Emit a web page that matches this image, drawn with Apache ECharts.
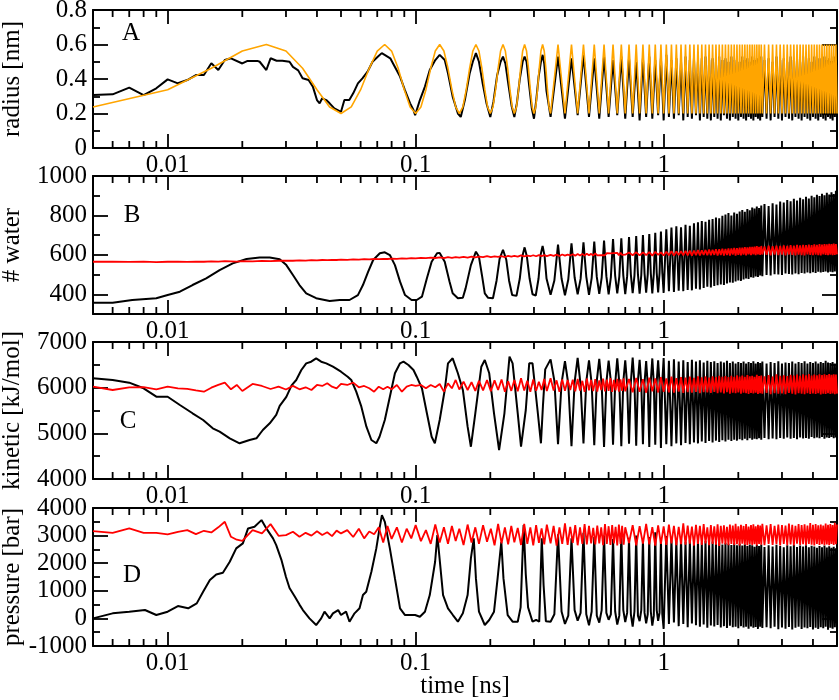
<!DOCTYPE html>
<html><head><meta charset="utf-8">
<script src="https://cdn.jsdelivr.net/npm/echarts@6/dist/echarts.min.js"></script>
<style>html,body{margin:0;padding:0;background:#fff}#c{width:839px;height:700px}</style>
</head><body><div id="c"></div>
<script>
// ---------- tick labels / texts ----------
const xTickValues = [0.01, 0.1, 1];
const xTickLabels = ['0.01', '0.1', '1'];
const xMinorTicks = [0.006,0.007,0.008,0.009,0.02,0.03,0.04,0.05,0.06,0.07,0.08,0.09,0.2,0.3,0.4,0.5,0.6,0.7,0.8,0.9,2,3,4];
const timeAxisName = 'time [ns]';
const panelLetters = ['A','B','C','D'];
const yNames = ['radius [nm]', '# water', 'kinetic [kJ/mol]', 'pressure [bar]'];
const radiusTicks = [0,0.2,0.4,0.6,0.8];      const radiusMinor = [0.1,0.3,0.5,0.7];
const waterTicks = [400,600,800,1000];        const waterMinor = [500,700,900];
const kineticTicks = [4000,5000,6000,7000];   const kineticMinor = [4500,5500,6500];
const pressureTicks = [-1000,0,1000,2000,3000,4000]; const pressureMinor = [-500,500,1500,2500,3500];

// ---------- shared late-time grid (extrema of the oscillation) ----------
const timeLate = [0.35,0.375,0.4,0.425,0.45,0.475,0.5,0.525,0.55,0.575,
0.6,0.625,0.65,0.675,0.7,0.725,0.75,0.775,0.8,0.825,
0.85,0.875,0.9,0.925,0.95,0.975,1,1.025,1.05,1.075,
1.1,1.125,1.15,1.175,1.2,1.225,1.25,1.275,1.3,1.325,
1.35,1.375,1.4,1.425,1.45,1.475,1.5,1.525,1.55,1.575,
1.6,1.625,1.65,1.675,1.7,1.725,1.75,1.775,1.8,1.825,
1.85,1.875,1.9,1.925,1.95,1.975,2,2.025,2.05,2.075,
2.1,2.125,2.15,2.175,2.2,2.225,2.25,2.275,2.3,2.325,
2.35,2.375,2.4,2.425,2.45,2.475,2.5,2.55,2.6,2.65,
2.7,2.75,2.8,2.85,2.9,2.95,3,3.05,3.1,3.15,
3.2,3.25,3.3,3.35,3.4,3.45,3.5,3.55,3.6,3.65,
3.7,3.75,3.8,3.85,3.9,3.95,4,4.05,4.1,4.15,
4.2,4.25,4.3,4.35,4.4,4.45,4.5,4.55,4.6,4.65,
4.7,4.75,4.8,4.85,4.9,4.95,5];
// quarter-period grid between 0.35 and 1 ns (B, C, D shapes)
const timeMid = [0.35,0.3625,0.375,0.3875,0.4,0.4125,0.425,0.4375,0.45,0.4625,
0.475,0.4875,0.5,0.5125,0.525,0.5375,0.55,0.5625,0.575,0.5875,
0.6,0.6125,0.625,0.6375,0.65,0.6625,0.675,0.6875,0.7,0.7125,
0.725,0.7375,0.75,0.7625,0.775,0.7875,0.8,0.8125,0.825,0.8375,
0.85,0.8625,0.875,0.8875,0.9,0.9125,0.925,0.9375,0.95,0.9625,
0.975,0.9875,1];
const timeAfter1 = timeLate.filter(t => t > 1);

// ---------- time grid of the reference (red) curves ----------
const timeRef = [0.005,0.006,0.007,0.008,0.009,0.010,0.011,0.012,0.013,0.014,
0.015,0.016,0.017,0.018,0.019,0.020,0.022,0.024,0.026,0.028,
0.030,0.032,0.034,0.036,0.038,0.040,0.042,0.044,0.046,0.048,
0.050,0.053,0.056,0.059,0.062,0.065,0.068,0.071,0.074,0.077,
0.080,0.084,0.088,0.092,0.096,0.100,0.105,0.110,0.115,0.120,
0.125,0.130,0.135,0.140,0.145,0.150,0.156,0.162,0.168,0.174,
0.180,0.187,0.194,0.201,0.208,0.215,0.222,0.229,0.236,0.243,
0.250,0.258,0.266,0.274,0.282,0.290,0.298,0.306,0.314,0.322,
0.330,0.338,0.35,0.36,0.37,0.38,0.39,0.40,0.41,0.42,
0.43,0.44,0.45,0.46,0.47,0.48,0.49,0.50,0.51,0.52,
0.53,0.54,0.55,0.56,0.57,0.58,0.59,0.60,0.61,0.62,
0.63,0.64,0.65,0.66,0.67,0.68,0.69,0.70,0.725,0.75,
0.775,0.8,0.825,0.85,0.875,0.9,0.925,0.95,0.975,1,
1.025,1.05,1.075,1.1,1.125,1.15,1.175,1.2,1.225,1.25,
1.275,1.3,1.325,1.35,1.375,1.4,1.425,1.45,1.475,1.5,
1.525,1.55,1.575,1.6,1.625,1.65,1.675,1.7,1.725,1.75,
1.775,1.8,1.825,1.85,1.875,1.9,1.925,1.95,1.975,2,
2.025,2.05,2.075,2.1,2.125,2.15,2.175,2.2,2.225,2.25,
2.275,2.3,2.325,2.35,2.375,2.4,2.425,2.45,2.475,2.5,
2.55,2.6,2.65,2.7,2.75,2.8,2.85,2.9,2.95,3,
3.05,3.1,3.15,3.2,3.25,3.3,3.35,3.4,3.45,3.5,
3.55,3.6,3.65,3.7,3.75,3.8,3.85,3.9,3.95,4,
4.05,4.1,4.15,4.2,4.25,4.3,4.35,4.4,4.45,4.5,
4.55,4.6,4.65,4.7,4.75,4.8,4.85,4.9,4.95,5];

// ---------- A: radius (black simulation, orange model) ----------
const timeRadiusEarly = [0.005,0.006,0.007,0.008,0.009,0.010,0.011,0.012,0.013,0.014,
0.015,0.016,0.017,0.018,0.020,0.021,0.023,0.0235,0.025,0.026,
0.0275,0.029,0.031,0.032,0.0336,0.035,0.037,0.0385,0.040,0.041,
0.042,0.0436,0.045,0.047,0.050,0.0516,0.054,0.056,0.0585,0.061,
0.064,0.067,0.0705,0.073,0.075,0.079,0.0825,0.0865,0.0905,0.095,
0.098,0.0995,0.104,0.109,0.114,0.12,0.125,0.131,0.135,0.141,
0.148,0.152,0.158,0.165,0.17,0.175,0.18,0.186,0.193,0.2,
0.206,0.213,0.22,0.225,0.23,0.237,0.244,0.25,0.256,0.263,
0.27,0.275,0.28,0.287,0.294,0.3,0.306,0.313,0.32,0.325,
0.33,0.337];
const radiusEarly = [.307,.311,.35,.307,.346,.398,.375,.394,.423,.423,
.491,.452,.51,.52,.49,.505,.505,.5,.452,.52,
.506,.506,.5,.47,.45,.404,.394,.356,.278,.259,
.288,.278,.259,.23,.21,.278,.278,.317,.375,.404,
.443,.5,.53,.55,.54,.52,.47,.414,.336,.259,
.22,.19,.278,.356,.452,.51,.54,.51,.433,.298,
.2,.18,.28,.43,.5,.55,.5,.38,.26,.18,
.27,.42,.5,.53,.49,.36,.24,.18,.26,.4,
.5,.53,.5,.36,.23,.17,.27,.41,.5,.54,
.49,.33];
const radiusLate = [.18,.53,.17,.52,.19,.54,.18,.52,.17,.53,
.18,.51,.19,.53,.17,.52,.18,.50,.16,.52,
.18,.53,.17,.51,.19,.52,.16,.54,.18,.51,
.17,.52,.19,.50,.16,.53,.18,.51,.17,.52,
.19,.50,.16,.52,.18,.53,.17,.51,.16,.52,
.18,.50,.17,.53,.16,.51,.19,.52,.17,.50,
.16,.53,.18,.51,.17,.52,.16,.50,.18,.53,
.17,.51,.16,.52,.18,.50,.17,.53,.16,.51,
.18,.52,.17,.50,.16,.53,.18,.51,.17,.52,
.16,.50,.18,.53,.17,.51,.16,.52,.18,.50,
.17,.53,.16,.51,.18,.52,.17,.50,.16,.53,
.18,.51,.17,.52,.16,.50,.18,.53,.17,.51,
.16,.52,.18,.50,.17,.53,.16,.51,.18,.52,
.17,.50,.16,.53,.18,.51,.17];
const timeModelEarly = [0.005,0.01,0.015,0.02,0.025,0.03,0.035,0.04,0.045,0.05,
0.055,0.06,0.065,0.07,0.075,0.08,0.085,0.09,0.095,0.1,
0.105,0.11,0.115,0.12,0.125,0.13,0.135,0.14,0.145,0.15,
0.155,0.16,0.165,0.17,0.175,0.18,0.185,0.19,0.195,0.2,
0.205,0.21,0.215,0.22,0.225,0.23,0.235,0.24,0.245,0.25,
0.255,0.26,0.265,0.27,0.275,0.28,0.285,0.29,0.295,0.3,
0.305,0.31,0.315,0.32,0.325,0.33,0.335,0.34,0.345];
const radiusModelEarly = [.238,.338,.462,.562,.6,.562,.462,.338,.238,.2,
.238,.338,.462,.562,.6,.562,.462,.338,.238,.2,
.238,.338,.462,.562,.6,.562,.462,.338,.238,.2,
.238,.338,.462,.562,.6,.562,.462,.338,.238,.2,
.238,.338,.462,.562,.6,.562,.462,.338,.238,.2,
.238,.338,.462,.562,.6,.562,.462,.338,.238,.2,
.238,.338,.462,.562,.6,.562,.462,.338,.238];
const radiusModelLate = [.2,.6,.2,.6,.2,.6,.2,.6,.2,.6,
.2,.6,.2,.6,.2,.6,.2,.6,.2,.6,
.2,.6,.2,.6,.2,.6,.2,.6,.2,.6,
.2,.6,.2,.6,.2,.6,.2,.6,.2,.6,
.2,.6,.2,.6,.2,.6,.2,.6,.2,.6,
.2,.6,.2,.6,.2,.6,.2,.6,.2,.6,
.2,.6,.2,.6,.2,.6,.2,.6,.2,.6,
.2,.6,.2,.6,.2,.6,.2,.6,.2,.6,
.2,.6,.2,.6,.2,.6,.2,.6,.2,.6,
.2,.6,.2,.6,.2,.6,.2,.6,.2,.6,
.2,.6,.2,.6,.2,.6,.2,.6,.2,.6,
.2,.6,.2,.6,.2,.6,.2,.6,.2,.6,
.2,.6,.2,.6,.2,.6,.2,.6,.2,.6,
.2,.6,.2,.6,.2,.6,.2];

// ---------- B: # water ----------
const timeWaterEarly = [0.005,0.006,0.0072,0.009,0.01,0.0112,0.0126,0.0143,0.0162,0.0183,
0.0208,0.0235,0.0258,0.0283,0.0301,0.032,0.034,0.0362,0.0397,0.045,
0.0494,0.0541,0.0585,0.0613,0.0643,0.0674,0.0717,0.0751,0.0787,0.0825,
0.0865,0.0906,0.0963,0.101,0.106,0.111,0.116,0.122,0.125,0.131,
0.137,0.141,0.148,0.155,0.159,0.167,0.175,0.18,0.185,0.19,
0.196,0.205,0.212,0.218,0.225,0.232,0.238,0.245,0.255,0.263,
0.269,0.275,0.281,0.288,0.296,0.305,0.313,0.319,0.325,0.331,
0.337];
const waterEarly = [357,357,371,380,396,413,447,481,523,557,
579,587,587,578,548,498,447,405,380,366,
371,371,396,447,514,574,608,613,599,548,
464,396,371,371,388,481,565,608,610,565,
464,405,380,382,430,548,616,590,498,405,
382,380,470,580,626,575,470,396,392,480,
590,638,590,480,400,394,480,600,645,595,
480];
const waterMid = [398,470,652,480,395,475,658,485,400,478,
663,490,397,482,668,488,402,485,672,492,
400,486,680,494,404,490,684,496,401,492,
690,500,406,495,695,502,403,498,700,505,
408,500,705,506,405,503,712,510,410,506,
718,512,407];
const waterLate = [730,415,738,
412,745,418,740,416,752,422,748,420,760,
428,765,424,772,432,768,438,778,434,782,
442,790,446,786,450,798,447,805,455,812,
460,800,458,815,465,808,470,820,468,828,
475,818,480,832,478,826,486,840,484,835,
490,845,488,838,495,850,492,858,498,848,
496,862,502,855,500,870,498,866,505,878,
503,872,500,885,506,876,502,890,508,882,
505,895,510,886,507,900,512,892,508,905,
514,898,510,910,513,902,516,915,511,906,
515,918,512,908,516,925,514];
const waterRef = [565,566,564,566,563,565,566,564,566,565,
567,566,568,567,566,568,567,569,568,570,
571,570,572,571,573,572,574,573,575,574,
576,575,577,576,578,577,579,578,580,579,
581,580,582,581,583,582,585,583,586,584,
587,584,588,585,589,586,590,586,591,587,
591,588,593,589,592,590,594,589,595,591,
595,591,597,592,596,593,598,593,599,594,
599,594,600,595,601,594,602,596,601,597,
603,596,604,597,605,596,606,598,605,597,
607,597,606,599,608,598,609,599,607,600,
609,599,610,598,611,600,609,601,612,598,
613,597,612,599,614,596,615,600,613,597,
616,598,618,596,617,599,619,597,620,598,
621,596,622,599,624,597,623,600,625,598,
627,598,626,600,629,596,628,599,631,597,
630,599,633,597,632,601,635,596,634,600,
637,598,636,601,639,597,638,602,641,599,
640,602,642,599,644,603,641,600,645,602,
643,600,646,598,644,602,647,599,645,601,
648,597,646,602,649,600,647,598,650,601,
648,599,651,597,649,602,652,600,650,598,
653,601,651,599,654,597,652,602,655,600,
653,598,656,601,654,599,657,600,655,602];

// ---------- C: kinetic energy ----------
const timeKineticEarly = [0.005,0.006,0.007,0.008,0.009,0.01,0.0112,0.0126,0.0139,0.0152,
0.0162,0.0178,0.0195,0.0214,0.0228,0.0242,0.0258,0.0274,0.0283,0.0301,
0.0316,0.033,0.0346,0.0362,0.0379,0.0397,0.0416,0.0436,0.0464,0.05,
0.0532,0.055,0.0576,0.0604,0.0633,0.0663,0.0694,0.0715,0.0751,0.0787,
0.0825,0.0865,0.0893,0.0935,0.098,0.101,0.106,0.111,0.116,0.1195,
0.125,0.131,0.135,0.141,0.148,0.155,0.162,0.167,0.174,0.184,
0.19,0.198,0.207,0.217,0.228,0.239,0.246,0.258,0.266,0.278,
0.287,0.296,0.31,0.32,0.326,0.333];
const kineticEarly = [6205,6168,6109,5986,5802,5802,5621,5439,5292,5110,
5036,4891,4782,4854,4891,5073,5220,5402,5600,5800,
6050,6168,6387,6533,6569,6643,6569,6533,6459,6350,
6240,6168,5912,5584,5145,4854,4782,4926,5292,5802,
6315,6533,6569,6497,6387,6240,5986,5439,4926,4782,
5292,5949,6533,6643,6315,5949,5145,4707,5439,6459,
6606,6315,5439,4635,5439,6680,6533,5439,4707,5511,
6533,6533,5511,4782,5600,6400];
const kineticMid = [6620,6150,4760,6100,6580,6080,4720,6120,6650,6060,
4780,6130,6600,6090,4740,6150,6630,6070,4700,6110,
6590,6140,4750,6080,6640,6100,4720,6130,6600,6060,
4770,6120,6660,6090,4730,6150,6610,6080,4760,6110,
6580,6070,4700,6140,6640,6100,4750,6120,6600,6090,
4680,6130,6650];
const kineticLate = [4760,6590,4720,
6620,4780,6570,4740,6600,4790,6560,4760,6610,4800,
6570,4780,6600,4820,6550,4790,6590,4830,6560,4800,
6580,4840,6540,4810,6570,4850,6550,4820,6590,4860,
6540,4830,6570,4860,6530,4840,6560,4870,6540,4850,
6570,4880,6530,4850,6560,4890,6540,4860,6580,4880,
6530,4870,6560,4890,6540,4860,6570,4900,6530,4870,
6560,4890,6540,4870,6580,4900,6530,4880,6550,4910,
6540,4880,6570,4900,6530,4870,6560,4910,6540,4890,
6580,4900,6530,4880,6560,4920,6540,4890,6570,4910,
6530,4890,6560,4920,6540,4880,6590,4910,6550,4900,
6540,4920,6560,4890,6530,4910,6550];
const kineticRef = [6022,5949,6008,6010,5964,6022,5986,5975,5940,5912,
6000,6060,6109,5964,6059,5927,6081,6037,5971,6022,
5960,6040,5964,6008,5949,6059,6037,6095,6022,5986,
6081,6059,6110,6008,6037,5986,5912,6022,5964,6022,
5964,6059,5912,6022,6059,6037,6059,5986,6059,6008,
6080,5912,6095,5986,6168,5960,6131,5949,6120,5930,
6150,5940,6168,5920,6160,5950,6180,5912,6140,5930,
6170,5920,6205,5940,6150,5912,6180,5930,6131,5949,
6190,5925,6205,5940,6160,5912,6180,5930,6168,5949,
6175,5920,6190,5935,6150,5910,6200,5940,6170,5925,
6185,5915,6160,5945,6200,5920,6175,5930,6210,5910,
6170,5940,6195,5915,6180,5930,6205,5920,6190,5900,
6210,5910,6185,5890,6220,5920,6200,5895,6230,5910,
6200,5900,6240,5890,6210,5915,6230,5885,6220,5905,
6240,5890,6215,5910,6250,5880,6225,5900,6245,5895,
6220,5885,6250,5905,6230,5880,6260,5895,6235,5875,
6255,5900,6230,5870,6260,5890,6240,5880,6270,5895,
6245,5870,6265,5890,6240,5880,6275,5860,6250,5885,
6260,5875,6240,5890,6280,5865,6255,5880,6265,5870,
6250,5885,6275,5860,6245,5880,6290,5870,6260,5875,
6270,5860,6255,5885,6280,5870,6265,5850,6285,5880,
6260,5870,6290,5855,6270,5880,6300,5865,6265,5875,
6285,5860,6270,5880,6295,5850,6275,5870,6290,5865,
6275,5880,6300,5860,6280,5875,6295,5855,6285,5870];

// ---------- D: pressure ----------
const timePressureEarly = [0.005,0.006,0.007,0.0081,0.009,0.01,0.011,0.0121,0.0131,0.0139,
0.0148,0.0157,0.0167,0.0178,0.0189,0.0201,0.0211,0.0224,0.0239,0.025,
0.0266,0.0274,0.0288,0.03,0.031,0.0325,0.034,0.0351,0.0373,0.0397,
0.0416,0.0429,0.045,0.0464,0.0487,0.05,0.0524,0.0541,0.0567,0.0594,
0.0613,0.0632,0.0663,0.0694,0.0715,0.0731,0.0751,0.0787,0.0825,0.0865,
0.0906,0.095,0.0995,0.104,0.109,0.114,0.1198,0.1223,0.1245,0.129,
0.135,0.1413,0.148,0.155,0.162,0.167,0.1715,0.175,0.18,0.19,
0.198,0.207,0.214,0.2215,0.226,0.235,0.246,0.258,0.265,0.2725,
0.278,0.284,0.296,0.306,0.315,0.3225,0.328,0.335];
const pressureEarly = [0,183,243,303,122,243,448,365,545,966,
1389,1594,1653,2052,2536,2718,3260,3319,3561,3260,
2899,2656,2100,1500,1100,800,500,303,0,-240,
0,243,0,183,303,122,243,-120,183,365,
846,966,1690,2537,3260,3742,3500,2537,1450,365,
122,122,122,61,243,846,2052,3018,2294,846,
365,122,-120,183,846,2175,2899,1450,243,-240,
-59,243,1450,2776,1450,122,-120,-120,400,3380,
1600,400,-120,-50,-120,2899,1200,-100];
const pressureMid = [-120,150,3050,250,-200,100,2900,300,-80,200,
3100,150,-250,250,2950,100,-150,300,3000,200,
-50,150,2880,250,-220,100,3050,300,-130,200,
2920,150,-300,250,3000,100,-100,300,2850,200,
-180,150,2950,250,-260,100,3120,300,-90,200,
2900,150,-380];
const pressureLate = [2980,-200,2870,
-150,2820,-280,2900,-200,2780,-320,2850,-180,2760,
-250,2820,-300,2750,-220,2800,-340,2720,-260,2790,
-290,2700,-240,2760,-330,2680,-280,2740,-350,2700,
-270,2660,-320,2720,-300,2650,-360,2700,-280,2640,
-330,2690,-300,2620,-370,2680,-290,2650,-340,2600,
-310,2660,-380,2620,-300,2680,-350,2590,-320,2650,
-360,2600,-300,2670,-390,2620,-330,2580,-370,2650,
-310,2610,-400,2660,-340,2590,-300,2640,-380,2600,
-330,2650,-360,2580,-310,2630,-400,2600,-340,2560,
-380,2620,-320,2580,-360,2640,-300,2570,-410,2610,
-340,2560,-370,2600,-320,2540,-390];
const pressureRef = [3163,3102,3260,3102,3102,3042,3138,3199,3054,3175,
3115,3300,3500,2957,2850,2812,3199,3078,3416,2993,
3018,3138,2960,3100,3000,3160,3020,3120,2980,3180,
3080,3200,2950,3250,2900,3150,3050,3300,2750,3350,
2880,3300,2750,3250,2900,3380,2800,3200,2700,3400,
2750,3300,2700,3350,2800,3250,2660,3400,2750,3300,
2700,3380,2780,3250,2650,3420,2720,3300,2680,3350,
2760,3280,2660,3420,2700,3300,2650,3380,2740,3260,
2680,3400,2720,3350,2640,3300,2700,3440,2660,3320,
2740,3380,2650,3300,2700,3420,2680,3350,2720,3280,
2680,3360,2720,3300,2650,3420,2700,3340,2660,3380,
2720,3320,2640,3400,2700,3350,2670,3300,2730,3380,
2650,3340,2710,3420,2680,3310,2640,3370,2700,3330,
2660,3400,2720,3350,2650,3320,2690,3440,2670,3360,
2710,3330,2640,3390,2700,3350,2660,3420,2720,3300,
2650,3380,2700,3340,2670,3410,2630,3350,2710,3370,
2680,3320,2650,3400,2700,3360,2660,3430,2690,3340,
2640,3390,2710,3350,2670,3420,2650,3330,2700,3380,
2660,3410,2690,3340,2640,3390,2700,3360,2670,3430,
2650,3370,2700,3420,2660,3350,2690,3400,2640,3380,
2700,3360,2650,3440,2680,3390,2640,3350,2710,3420,
2660,3380,2690,3410,2650,3360,2700,3450,2670,3390,
2640,3420,2700,3370,2660,3400,2690,3360,2650,3440,
2680,3390,2650,3420,2700,3380,2660,3460,2690,3400];

// ---------- build chart ----------
const FONT = 'Liberation Serif';
const FS = 25;
function zip(t, v) { return t.map((x, i) => [x, v[i]]); }
function fmtX(v) {
  for (let i = 0; i < xTickValues.length; i++) {
    if (Math.abs(Math.log10(v) - Math.log10(xTickValues[i])) < 1e-6) return xTickLabels[i];
  }
  return '';
}
const panels = [
  {min: 0, max: 0.8, major: radiusTicks, minor: radiusMinor},
  {min: 300, max: 1000, major: waterTicks, minor: waterMinor},
  {min: 4000, max: 7000, major: kineticTicks, minor: kineticMinor},
  {min: -1000, max: 4000, major: pressureTicks, minor: pressureMinor}
];
const layout = [{top: 10, height: 138}, {top: 176, height: 138}, {top: 342, height: 137}, {top: 508, height: 138}];
const letterPos = [[131, 33], [132, 215], [128, 421], [132, 575]];
const black = '#000';
const lineW = 2;
const lbl = {fontFamily: FONT, fontSize: FS, color: black};

const grid = [], xAxis = [], yAxis = [], series = [], graphic = [];
panels.forEach((p, g) => {
  grid.push({left: 93, width: 744, top: layout[g].top, height: layout[g].height, containLabel: false, outerBoundsMode: 'none'});
  const xBase = {type: 'log', logBase: 10, gridIndex: g, min: 0.005, max: 5,
    axisLine: {show: true, onZero: false, lineStyle: {color: black, width: lineW}},
    axisTick: {show: true, inside: true, length: 14, lineStyle: {color: black, width: 1.8}},
    splitLine: {show: false}, minorTick: {show: false}, minorSplitLine: {show: false}};
  xAxis.push(Object.assign({}, xBase, {position: 'bottom',
    axisLabel: Object.assign({show: true, margin: 5, formatter: fmtX}, lbl),
    name: g === 3 ? timeAxisName : '', nameLocation: 'middle', nameGap: 28, nameMoveOverlap: false,
    nameTextStyle: Object.assign({}, lbl)}));
  xAxis.push(Object.assign({}, xBase, {position: 'top', axisLabel: {show: false}}));
  const yBase = {type: 'value', gridIndex: g, min: p.min, max: p.max, splitLine: {show: false}, minorTick: {show: false}};
  yAxis.push(Object.assign({}, yBase, {position: 'left',
    axisLine: {show: true, onZero: false, lineStyle: {color: black, width: lineW}},
    axisTick: {show: true, inside: true, length: 15, customValues: p.major, lineStyle: {color: black, width: 1.8}},
    axisLabel: Object.assign({show: true, margin: 6, customValues: p.major, formatter: v => String(v)}, lbl),
    name: yNames[g], nameLocation: 'middle', nameRotate: 90, nameGap: 68, nameMoveOverlap: false,
    nameTextStyle: Object.assign({}, lbl)}));
  yAxis.push(Object.assign({}, yBase, {position: 'right',
    axisLine: {show: true, onZero: false, lineStyle: {color: black, width: lineW}},
    axisTick: {show: true, inside: true, length: 15, customValues: p.major, lineStyle: {color: black, width: 1.8}},
    axisLabel: {show: false}}));
  yAxis.push(Object.assign({}, yBase, {position: 'left', axisLine: {show: false},
    axisTick: {show: true, inside: true, length: 7, customValues: p.minor, lineStyle: {color: black, width: 1.8}},
    axisLabel: {show: false}}));
  yAxis.push(Object.assign({}, yBase, {position: 'right', axisLine: {show: false},
    axisTick: {show: true, inside: true, length: 7, customValues: p.minor, lineStyle: {color: black, width: 1.8}},
    axisLabel: {show: false}}));
  // minor log ticks on bottom and top
  series.push({type: 'custom', xAxisIndex: 2 * g, yAxisIndex: 4 * g, silent: true, z: 10, clip: false,
    data: xMinorTicks.map(t => [t, p.min]),
    renderItem: (params, api) => {
      const b = api.coord([api.value(0), p.min]);
      const tp = api.coord([api.value(0), p.max]);
      return {type: 'group', children: [
        {type: 'line', shape: {x1: b[0], y1: b[1], x2: b[0], y2: b[1] - 7}, style: {stroke: black, lineWidth: 1.8}},
        {type: 'line', shape: {x1: tp[0], y1: tp[1], x2: tp[0], y2: tp[1] + 7}, style: {stroke: black, lineWidth: 1.8}}
      ]};
    }});
  graphic.push({type: 'text', x: letterPos[g][0], y: letterPos[g][1], z: 100,
    style: {text: panelLetters[g], fontFamily: FONT, fontSize: FS, fill: black, align: 'center', verticalAlign: 'middle'}});
});

function line(g, data, color, width, z) {
  return {type: 'line', xAxisIndex: 2 * g, yAxisIndex: 4 * g, data: data, symbol: 'none', showSymbol: false,
    lineStyle: {color: color, width: width}, itemStyle: {color: color}, silent: true, clip: true, z: z, animation: false};
}
series.push(line(0, zip(timeRadiusEarly, radiusEarly).concat(zip(timeLate, radiusLate)), '#000', 2, 3));
series.push(line(0, zip(timeModelEarly, radiusModelEarly).concat(zip(timeLate, radiusModelLate)), '#ffa500', 1.6, 4));
series.push(line(1, zip(timeWaterEarly, waterEarly).concat(zip(timeMid, waterMid), zip(timeAfter1, waterLate)), '#000', 2, 3));
series.push(line(1, zip(timeRef, waterRef), '#ff0000', 1.8, 4));
series.push(line(2, zip(timeKineticEarly, kineticEarly).concat(zip(timeMid, kineticMid), zip(timeAfter1, kineticLate)), '#000', 2, 3));
series.push(line(2, zip(timeRef, kineticRef), '#ff0000', 1.8, 4));
series.push(line(3, zip(timePressureEarly, pressureEarly).concat(zip(timeMid, pressureMid), zip(timeAfter1, pressureLate)), '#000', 2, 3));
series.push(line(3, zip(timeRef, pressureRef), '#ff0000', 1.8, 4));

const chart = echarts.init(document.getElementById('c'), null, {renderer: 'canvas'});
chart.setOption({
  animation: false,
  backgroundColor: '#fff',
  textStyle: {fontFamily: FONT},
  grid: grid, xAxis: xAxis, yAxis: yAxis, series: series, graphic: graphic
});
</script>
</body></html>
